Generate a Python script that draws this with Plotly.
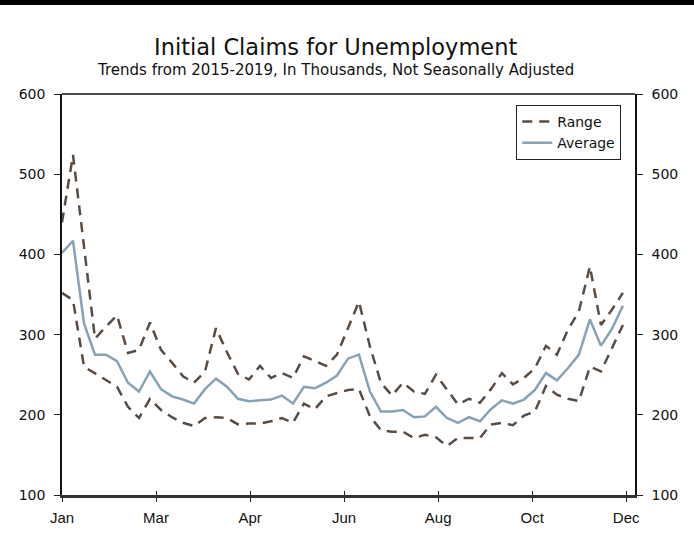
import plotly.graph_objects as go

weeks = list(range(52))

range_upper = [440, 524, 410, 295, 310, 324, 277, 281, 315, 281,
               265, 248, 240, 254, 308, 278, 251, 244, 261, 246,
               252, 246, 273, 267, 261, 275, 308, 341, 285, 240,
               224, 240, 229, 226, 250, 231, 213, 220, 215, 232,
               252, 238, 246, 258, 286, 275, 306, 329, 385, 312,
               331, 352]

average = [402, 417, 314, 275, 275, 267, 240, 229, 254, 232,
           223, 219, 214, 232, 245, 235, 220, 217, 218, 219,
           224, 214, 235, 233, 240, 249, 270, 275, 229, 204,
           204, 206, 197, 198, 210, 196, 190, 197, 192, 207,
           218, 214, 219, 231, 252, 243, 258, 275, 319, 286,
           307, 336]

range_lower = [352, 343, 260, 252, 244, 235, 210, 196, 220, 206,
               197, 190, 186, 196, 197, 196, 188, 189, 189, 192,
               196, 190, 214, 207, 223, 227, 231, 232, 198, 181,
               179, 179, 171, 175, 172, 161, 171, 171, 171, 188,
               190, 187, 199, 204, 236, 225, 220, 217, 260, 254,
               283, 312]

month_labels = ["Jan", "Mar", "Apr", "Jun", "Aug", "Oct", "Dec"]
month_weeks = [0, 8.55, 17.1, 25.65, 34.2, 42.75, 51.3]
y_ticks = [100, 200, 300, 400, 500, 600]

DASH_COLOR = "#5a4c42"
AVG_COLOR = "#86a2b5"
X_RANGE = [0, 52.1]
Y_RANGE = [100, 600]

fig = go.Figure()
fig.add_trace(go.Scatter(
    x=weeks, y=range_upper, mode="lines", name="Range", legendgroup="range",
    line=dict(color=DASH_COLOR, width=2.5, dash="10px,7px")))
fig.add_trace(go.Scatter(
    x=weeks, y=average, mode="lines", name="Average",
    line=dict(color=AVG_COLOR, width=2.5)))
fig.add_trace(go.Scatter(
    x=weeks, y=range_lower, mode="lines", name="Range", legendgroup="range",
    showlegend=False, xaxis="x2", yaxis="y2",
    line=dict(color=DASH_COLOR, width=2.5, dash="10px,7px")))

H = 535 - 94 - 40

fig.update_layout(
    width=694, height=535,
    margin=dict(l=62, r=59, t=94, b=40, autoexpand=False),
    paper_bgcolor="white", plot_bgcolor="white",
    font=dict(family="DejaVu Sans", color="#111"),
    xaxis=dict(range=X_RANGE, tickvals=month_weeks, ticktext=month_labels,
               ticks="outside", ticklen=4, tickcolor="#222", tickwidth=1,
               showline=True, linecolor="#333", linewidth=3, automargin=False,
               showgrid=False, zeroline=False, ticklabelstandoff=3,
               tickfont=dict(family="Liberation Sans", size=15, color="#111")),
    xaxis2=dict(range=X_RANGE, tickvals=month_weeks, overlaying="x", side="bottom",
                ticks="inside", ticklen=4, tickcolor="#222", tickwidth=1,
                automargin=False,
                showticklabels=False, showline=False, showgrid=False, zeroline=False),
    yaxis=dict(range=Y_RANGE, tickvals=y_ticks, ticks="outside", ticklen=6,
               tickcolor="#222", showline=True, linecolor="#111", linewidth=1.5,
               showgrid=False, zeroline=False, ticklabelstandoff=6, automargin=False,
               tickfont=dict(family="DejaVu Sans", size=14, color="#111")),
    yaxis2=dict(range=Y_RANGE, tickvals=y_ticks, overlaying="y", side="right",
                ticks="outside", ticklen=6, tickcolor="#222", showline=True,
                linecolor="#111", linewidth=1.5, showgrid=False, zeroline=False,
                ticklabelstandoff=6, automargin=False,
                tickfont=dict(family="DejaVu Sans", size=14, color="#111")),
    legend=dict(x=0.976, xanchor="right", y=0.973, yanchor="top",
                bordercolor="#222", borderwidth=1, bgcolor="white",
                font=dict(family="DejaVu Sans", size=14, color="#111"),
                tracegroupgap=0),
    shapes=[
        dict(type="line", xref="paper", yref="paper", x0=0, x1=1, y0=1, y1=1,
             line=dict(color="#111", width=1.5)),
        dict(type="rect", xref="paper", yref="paper", x0=-0.2, x1=1.2,
             y0=1 + 89 / H, y1=1 + 100 / H, fillcolor="black", line=dict(width=0)),
    ],
    annotations=[
        dict(text="Initial Claims for Unemployment", xref="paper", yref="paper",
             x=0.478, y=1 + (94 - 47) / H, xanchor="center", yanchor="middle",
             showarrow=False, font=dict(family="DejaVu Sans", size=22.5, color="#111")),
        dict(text="Trends from 2015-2019, In Thousands, Not Seasonally Adjusted",
             xref="paper", yref="paper", x=0.478, y=1 + (94 - 70) / H,
             xanchor="center", yanchor="middle", showarrow=False,
             font=dict(family="DejaVu Sans", size=15, color="#111")),
    ],
)

fig.write_html("out.html", config={"displayModeBar": False},
               post_script="document.body.style.margin='0';")
